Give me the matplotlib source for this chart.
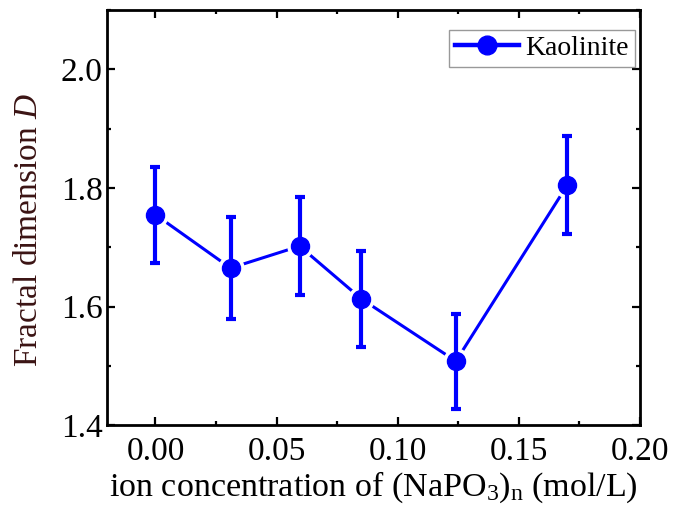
import numpy as np
import matplotlib.pyplot as plt
from matplotlib.ticker import MultipleLocator

plt.rcParams['font.family'] = ['Liberation Serif', 'DejaVu Serif']
plt.rcParams['mathtext.fontset'] = 'custom'
plt.rcParams['mathtext.it'] = 'Liberation Serif:italic'
plt.rcParams['mathtext.rm'] = 'Liberation Serif'

# data
conc = [0.0, 0.031, 0.0595, 0.085, 0.124, 0.17]
frac_d = [1.755, 1.665, 1.702, 1.613, 1.508, 1.805]
err = [0.081, 0.086, 0.082, 0.081, 0.080, 0.083]

fig = plt.figure(figsize=(6.73, 5.05), dpi=100)
ax = fig.add_axes([0.159, 0.158, 0.792, 0.822])

blue = '#0000ff'
# line with small gaps around the markers (Origin look)
ax.plot(conc, frac_d, '-', color=blue, lw=2.2, zorder=2)
ax.plot(conc, frac_d, 'o', color='white', ms=18, zorder=3)
ax.errorbar(conc, frac_d, yerr=err, fmt='none', ecolor=blue, elinewidth=3,
            capsize=3.5, capthick=3, zorder=4)
ax.plot(conc, frac_d, 'o', color=blue, ms=13, zorder=5)

# legend handle
ax.plot([], [], '-o', color=blue, lw=3.2, ms=13.5, label='Kaolinite')
leg = ax.legend(loc='upper right', bbox_to_anchor=(0.99, 0.952), fontsize=20,
                frameon=True, fancybox=False, handlelength=2.3,
                borderpad=0.2, handletextpad=0.25, borderaxespad=0)
leg.get_frame().set_edgecolor('#808080')
leg.get_frame().set_linewidth(1.0)

ax.set_xlim(-0.02, 0.20)
ax.set_ylim(1.4, 2.1)
ax.xaxis.set_minor_locator(MultipleLocator(0.025))
ax.yaxis.set_minor_locator(MultipleLocator(0.1))
ax.set_xticks([0.0, 0.05, 0.10, 0.15, 0.20])
ax.set_xticklabels(['0.00', '0.05', '0.10', '0.15', '0.20'])
ax.set_yticks([1.4, 1.6, 1.8, 2.0])
ax.set_yticklabels(['1.4', '1.6', '1.8', '2.0'])

ax.tick_params(which='both', direction='in', top=True, right=True,
               labelsize=24, width=1.6)
ax.tick_params(axis='x', pad=8)
ax.tick_params(axis='y', pad=3)
ax.tick_params(which='major', length=6)
ax.tick_params(which='minor', length=3)
for s in ax.spines.values():
    s.set_linewidth(2)

ax.set_xlabel('ion concentration of (NaPO$_3$)$_\\mathrm{n}$ (mol/L)', fontsize=24.5, labelpad=2)
ax.set_ylabel('Fractal dimension $D$', fontsize=24, color='#3b1414')
ax.yaxis.set_label_coords(-0.118, 0.47)

fig.savefig('out.png', dpi=100)
